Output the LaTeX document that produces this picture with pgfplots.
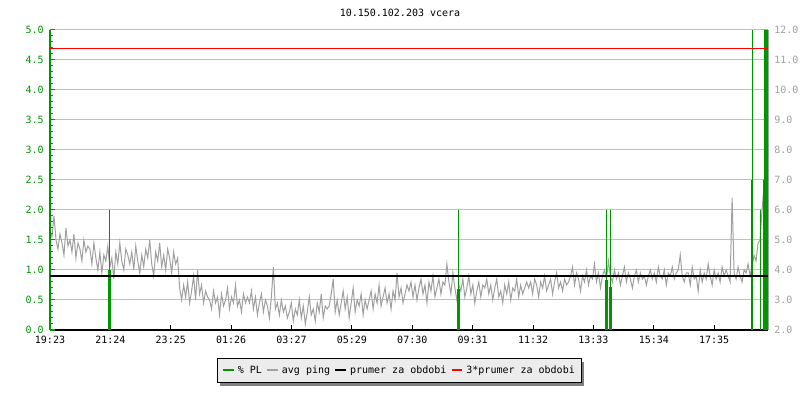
\documentclass[border=0pt]{standalone}
\usepackage{pgfplots}
\usepackage{pgfplotstable}
\pgfplotsset{compat=1.18}
\usepackage{fontspec}
\setmainfont{DejaVu Sans Mono}
\usetikzlibrary{shadows}
\definecolor{plgreen}{RGB}{0,150,0}
\definecolor{pinggray}{RGB}{160,160,160}
\definecolor{gridgray}{RGB}{192,192,192}
\definecolor{labgray}{RGB}{160,160,160}
\definecolor{axisgray}{RGB}{170,170,170}
\definecolor{legbg}{RGB}{236,236,236}
\definecolor{shadowgray}{RGB}{128,128,128}

\pgfplotstableread[row sep=\\]{
v\\
5.3\\5.1\\5.8\\5.0\\4.7\\5.2\\4.9\\4.5\\5.4\\4.8\\5.0\\4.6\\5.2\\4.4\\4.9\\4.7\\4.3\\5.0\\4.6\\4.8\\
4.7\\4.2\\4.9\\4.4\\4.0\\4.6\\3.9\\4.5\\4.3\\4.8\\4.1\\4.4\\3.7\\4.6\\4.2\\4.9\\4.3\\4.0\\4.7\\4.5\\
4.2\\4.6\\4.0\\4.8\\4.3\\3.9\\4.5\\4.1\\4.7\\4.4\\5.0\\4.2\\3.8\\4.6\\4.3\\4.9\\4.1\\4.5\\4.0\\4.7\\
4.4\\3.9\\4.6\\4.2\\4.4\\3.4\\3.0\\3.5\\3.1\\3.6\\2.9\\3.3\\3.8\\3.0\\4.0\\3.2\\3.5\\2.9\\3.3\\3.1\\
3.0\\2.7\\3.3\\2.9\\3.1\\2.5\\3.2\\2.8\\3.0\\3.4\\2.7\\3.1\\2.9\\3.5\\2.8\\3.0\\2.6\\3.2\\2.9\\3.1\\
2.9\\3.3\\2.7\\3.1\\2.5\\2.9\\3.2\\2.6\\3.0\\2.8\\2.4\\3.1\\4.1\\2.7\\2.9\\2.5\\3.0\\2.6\\2.8\\2.4\\
2.6\\2.9\\2.3\\2.7\\2.5\\3.0\\2.4\\2.8\\2.2\\2.6\\3.1\\2.5\\2.7\\2.3\\2.9\\2.6\\3.2\\2.4\\2.8\\2.7\\
2.8\\3.2\\3.7\\2.6\\3.0\\2.5\\2.9\\3.3\\2.7\\3.1\\2.4\\2.9\\3.4\\2.6\\3.0\\2.8\\3.2\\2.5\\3.0\\2.7\\
3.0\\3.3\\2.7\\3.2\\2.9\\3.5\\2.8\\3.1\\3.4\\2.9\\3.2\\2.7\\3.3\\3.0\\3.9\\3.1\\3.4\\2.9\\3.2\\3.5\\
3.3\\3.6\\3.1\\3.5\\3.0\\3.4\\3.7\\3.2\\3.5\\2.9\\3.6\\3.3\\3.8\\3.1\\3.4\\3.7\\3.2\\3.6\\3.5\\4.2\\
3.6\\3.2\\3.9\\3.4\\3.0\\3.5\\3.3\\3.7\\3.1\\3.4\\3.8\\3.2\\3.5\\2.9\\3.3\\3.6\\3.1\\3.5\\3.4\\3.7\\
3.2\\3.5\\3.0\\3.4\\3.7\\3.1\\3.3\\2.9\\3.5\\3.2\\3.6\\3.0\\3.4\\3.3\\3.7\\3.1\\3.5\\3.2\\3.4\\3.6\\
3.4\\3.6\\3.2\\3.7\\3.5\\3.1\\3.6\\3.4\\3.8\\3.3\\3.5\\3.7\\3.2\\3.6\\3.9\\3.4\\3.6\\3.3\\3.7\\3.5\\
3.6\\3.8\\4.1\\3.5\\3.9\\3.7\\3.3\\3.8\\3.6\\4.0\\3.5\\3.8\\3.7\\4.2\\3.6\\3.9\\3.4\\3.8\\4.0\\3.7\\
4.3\\3.8\\3.6\\4.0\\3.7\\3.9\\3.5\\3.8\\4.1\\3.6\\3.9\\3.7\\3.4\\3.8\\4.0\\3.6\\3.9\\3.7\\3.8\\3.5\\
3.8\\4.0\\3.7\\3.9\\3.6\\4.1\\3.8\\3.7\\4.0\\3.5\\3.9\\3.8\\4.1\\3.7\\3.9\\4.0\\4.5\\3.8\\3.6\\3.9\\
3.9\\3.5\\4.1\\3.7\\3.8\\3.3\\4.0\\3.6\\3.9\\3.7\\4.2\\3.8\\3.5\\4.0\\3.7\\3.9\\3.6\\4.1\\3.8\\4.0\\
3.8\\3.6\\6.4\\3.9\\3.7\\4.1\\3.8\\3.6\\4.0\\3.9\\4.2\\3.8\\4.1\\4.5\\4.3\\4.9\\5.0\\6.0\\6.8\\7.3\\
8.0\\
}\pingdata

\begin{document}
\fontsize{7.5pt}{9pt}\selectfont
\begin{tikzpicture}
\useasboundingbox (0,0) rectangle (600pt,300pt);
% right axis: avg ping
\begin{axis}[
  at={(37.5pt,52.5pt)}, anchor=south west,
  scale only axis, width=538.5pt, height=225pt,
  xmin=0, xmax=1440, ymin=2, ymax=12,
  every non boxed x axis/.style={}, every non boxed y axis/.style={},
  axis x line=bottom, axis y line=right,
  x axis line style={black, line width=1pt, -},
  y axis line style={axisgray, line width=0.75pt, -},
  tick align=inside,
  major tick length=3.75pt, minor tick length=2.25pt,
  xtick={0,121.1,242.2,363.3,484.4,605.5,726.6,847.7,968.8,1089.9,1211,1332.1},
  xticklabels={19:23,21:24,23:25,01:26,03:27,05:29,07:30,09:31,11:32,13:33,15:34,17:35},
  xtick style={black, line width=0.75pt},
  xticklabel style={black, yshift=-1.5pt},
  ytick={2,3,...,12},
  minor ytick={2.5,3.5,...,11.5},
  ytick style={axisgray, line width=0.75pt},
  yticklabel style={text=labgray, xshift=2pt, /pgf/number format/.cd, fixed, fixed zerofill, precision=1},
  /pgf/number format/assume math mode=true,
  ymajorgrids, grid style={gridgray, line width=0.75pt},
]
\addplot[pinggray, line width=0.75pt, mark=none] table[x expr=\coordindex*4, y=v] {\pingdata};
\end{axis}
% left axis: packet loss and averages
\begin{axis}[
  at={(37.5pt,52.5pt)}, anchor=south west,
  scale only axis, width=538.5pt, height=225pt,
  xmin=0, xmax=1440, ymin=0, ymax=5,
  every non boxed x axis/.style={}, every non boxed y axis/.style={},
  axis x line=none, axis y line=left,
  y axis line style={plgreen, line width=1pt, -},
  tick align=inside,
  major tick length=3.75pt, minor tick length=2.25pt,
  ytick={0,0.5,...,5},
  minor y tick num=4,
  ytick style={plgreen, line width=0.75pt},
  yticklabel style={text=plgreen, xshift=-2pt, /pgf/number format/.cd, fixed, fixed zerofill, precision=1},
  /pgf/number format/assume math mode=true,
]
\addplot[ycomb, plgreen, line width=0.75pt, mark=none] coordinates {
 (117,1.0)(118,1.0)(119,2.0)(120,1.0)(121,1.0)
 (818,0.68)(819,0.68)(820,2.0)(821,0.68)(822,0.68)
 (1114,0.83)(1115,0.83)(1116,2.0)(1117,0.83)(1118,0.83)
 (1123,0.72)(1124,0.72)(1125,2.0)(1126,0.72)(1127,0.72)
 (1406,2.5)(1407,2.5)(1408,2.5)(1409,5.0)
 (1424,2.0)(1430,2.5)(1431,2.5)
 (1432,5.0)(1433,5.0)(1434,5.0)(1435,5.0)(1436,5.0)(1437,5.0)(1438,5.0)(1439,5.0)(1440,5.0)
};
\addplot[black, line width=1.6pt, mark=none] coordinates {(0,0.895)(1440,0.895)};
\addplot[red, line width=0.8pt, mark=none] coordinates {(0,4.685)(1440,4.685)};
\end{axis}
\node at (300pt,290.25pt) {10.150.102.203 vcera};
\node[draw=black, fill=legbg, line width=0.75pt, minimum width=273pt, minimum height=18pt, inner sep=2pt,
  drop shadow={shadow xshift=2.25pt, shadow yshift=-2.25pt, fill=shadowgray, opacity=1}]
  at (299.25pt,21.75pt) {%
  \textcolor{plgreen}{\rule[1.8pt]{8pt}{1.6pt}}\hspace{3pt}\% PL\hspace{4pt}%
  \textcolor{pinggray}{\rule[1.8pt]{8pt}{1.6pt}}\hspace{3pt}avg ping\hspace{4pt}%
  \textcolor{black}{\rule[1.8pt]{8pt}{1.6pt}}\hspace{3pt}prumer za obdobi\hspace{4pt}%
  \textcolor{red}{\rule[1.8pt]{8pt}{1.6pt}}\hspace{3pt}3*prumer za obdobi};
\end{tikzpicture}
\end{document}
